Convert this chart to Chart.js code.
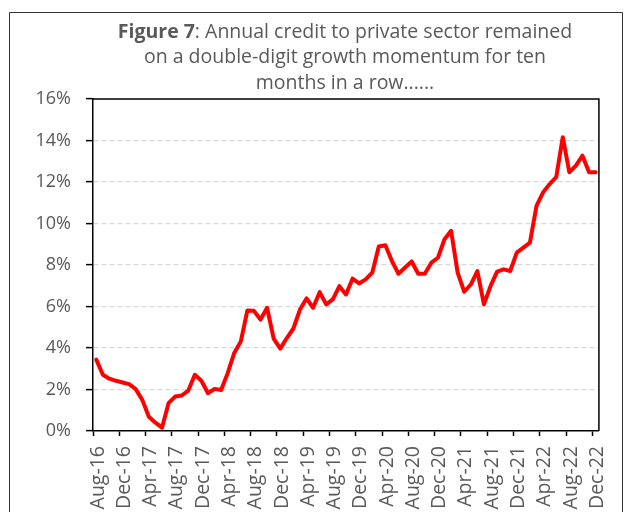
<!DOCTYPE html>
<html>
<head>
<meta charset="utf-8">
<script src="https://cdn.jsdelivr.net/npm/chart.js@4.4.0/dist/chart.umd.min.js"></script>
<style>
  html, body { margin: 0; padding: 0; background: #fff; overflow: hidden; }
  #wrap { position: relative; width: 626px; height: 512px; }
</style>
</head>
<body>
<div id="wrap"><canvas id="credit" width="626" height="512"></canvas></div>
<script>
// monthly observations, Aug-16 .. Dec-22
const months = [
  'Aug-16', 'Sep-16', 'Oct-16', 'Nov-16', 'Dec-16',
  'Jan-17', 'Feb-17', 'Mar-17', 'Apr-17', 'May-17', 'Jun-17', 'Jul-17', 'Aug-17', 'Sep-17', 'Oct-17', 'Nov-17', 'Dec-17',
  'Jan-18', 'Feb-18', 'Mar-18', 'Apr-18', 'May-18', 'Jun-18', 'Jul-18', 'Aug-18', 'Sep-18', 'Oct-18', 'Nov-18', 'Dec-18',
  'Jan-19', 'Feb-19', 'Mar-19', 'Apr-19', 'May-19', 'Jun-19', 'Jul-19', 'Aug-19', 'Sep-19', 'Oct-19', 'Nov-19', 'Dec-19',
  'Jan-20', 'Feb-20', 'Mar-20', 'Apr-20', 'May-20', 'Jun-20', 'Jul-20', 'Aug-20', 'Sep-20', 'Oct-20', 'Nov-20', 'Dec-20',
  'Jan-21', 'Feb-21', 'Mar-21', 'Apr-21', 'May-21', 'Jun-21', 'Jul-21', 'Aug-21', 'Sep-21', 'Oct-21', 'Nov-21', 'Dec-21',
  'Jan-22', 'Feb-22', 'Mar-22', 'Apr-22', 'May-22', 'Jun-22', 'Jul-22', 'Aug-22', 'Sep-22', 'Oct-22', 'Nov-22', 'Dec-22'
];

// annual growth of credit to the private sector, %
const privateCredit = [
  3.44, 2.71, 2.52, 2.42, 2.34,
  2.26, 2.02, 1.50, 0.69, 0.40, 0.16, 1.34, 1.66, 1.71, 1.95, 2.71, 2.42,
  1.82, 2.03, 1.98, 2.79, 3.76, 4.32, 5.81, 5.79, 5.37, 5.94, 4.45, 3.97,
  4.48, 4.94, 5.85, 6.39, 5.94, 6.69, 6.10, 6.34, 6.98, 6.58, 7.34, 7.11,
  7.31, 7.63, 8.89, 8.95, 8.19, 7.58, 7.88, 8.17, 7.58, 7.58, 8.11, 8.35,
  9.24, 9.65, 7.63, 6.71, 7.06, 7.71, 6.10, 6.98, 7.68, 7.79, 7.71, 8.60,
  8.84, 9.08, 10.85, 11.50, 11.90, 12.23, 14.16, 12.47, 12.79, 13.27, 12.47, 12.47
];

// every fourth month gets a tick and a label
const tickMonths = ['Aug-16', 'Dec-16', 'Apr-17', 'Aug-17', 'Dec-17', 'Apr-18', 'Aug-18', 'Dec-18', 'Apr-19', 'Aug-19',
  'Dec-19', 'Apr-20', 'Aug-20', 'Dec-20', 'Apr-21', 'Aug-21', 'Dec-21', 'Apr-22', 'Aug-22', 'Dec-22'];

const yTicks = [0, 2, 4, 6, 8, 10, 12, 14, 16];

const titleBold = 'Figure 7';
const titleLines = [
  ': Annual credit to private sector remained',
  'on a double-digit growth momentum for ten',
  'months in a row......'
];

const FONT = "'Open Sans', 'Segoe UI', sans-serif";
const GREY = '#595959';

// points sit in the middle of their month slot
const points = privateCredit.map((v, i) => ({ x: i + 0.5, y: v }));

const frameAndTitle = {
  id: 'frameAndTitle',
  afterDraw(chart) {
    const { ctx, chartArea: a } = chart;
    ctx.save();

    // top and right edges of the plot box
    ctx.strokeStyle = '#000';
    ctx.lineWidth = 1.5;
    ctx.beginPath();
    ctx.moveTo(a.left, a.top);
    ctx.lineTo(a.right, a.top);
    ctx.lineTo(a.right, a.bottom);
    ctx.stroke();

    // outer chart frame, bottom runs off the page
    ctx.strokeStyle = '#333';
    ctx.lineWidth = 1;
    ctx.beginPath();
    ctx.moveTo(9.5, 530);
    ctx.lineTo(9.5, 12.5);
    ctx.lineTo(622.5, 12.5);
    ctx.lineTo(622.5, 530);
    ctx.stroke();

    // three-line title, first words in bold
    const size = 19.5;
    const cx = 345;
    const lineY = [32, 57.5, 83];
    ctx.fillStyle = GREY;
    ctx.textBaseline = 'middle';
    ctx.textAlign = 'left';
    ctx.font = 'bold ' + size + 'px ' + FONT;
    const wb = ctx.measureText(titleBold).width;
    ctx.font = size + 'px ' + FONT;
    const w1 = ctx.measureText(titleLines[0]).width;
    const x0 = cx - (wb + w1) / 2;
    ctx.font = 'bold ' + size + 'px ' + FONT;
    ctx.fillText(titleBold, x0, lineY[0]);
    ctx.font = size + 'px ' + FONT;
    ctx.fillText(titleLines[0], x0 + wb, lineY[0]);
    ctx.textAlign = 'center';
    for (let k = 1; k < titleLines.length; k++) {
      ctx.fillText(titleLines[k], cx, lineY[k]);
    }
    ctx.restore();
  }
};

new Chart(document.getElementById('credit'), {
  type: 'line',
  data: {
    datasets: [{
      data: points,
      borderColor: '#ff0000',
      borderWidth: 4,
      borderJoinStyle: 'round',
      borderCapStyle: 'round',
      pointRadius: 0,
      tension: 0,
      fill: false
    }]
  },
  options: {
    responsive: false,
    animation: false,
    events: [],
    layout: { padding: { top: 99, right: 20, left: 0, bottom: 0 } },
    plugins: {
      legend: { display: false },
      tooltip: { enabled: false },
      title: { display: false }
    },
    scales: {
      x: {
        type: 'linear',
        min: 0,
        max: months.length,
        afterBuildTicks: scale => {
          scale.ticks = tickMonths.map(m => ({ value: months.indexOf(m) }));
        },
        afterFit: scale => { scale.height = 81; },
        border: { color: '#000', width: 1.5 },
        grid: {
          drawOnChartArea: false,
          tickLength: 5,
          tickColor: '#000',
          tickWidth: 1.5,
          tickBorderDash: []
        },
        ticks: {
          autoSkip: false,
          minRotation: 90,
          maxRotation: 90,
          padding: 10,
          labelOffset: 5,
          color: GREY,
          font: { family: FONT, size: 19.5 },
          callback: v => months[v]
        }
      },
      y: {
        min: 0,
        max: 16,
        afterBuildTicks: scale => {
          scale.ticks = yTicks.map(v => ({ value: v }));
        },
        afterFit: scale => { scale.width = 93; },
        border: { color: '#000', width: 1.5, dash: [5, 3] },
        grid: {
          color: c => (c.tick.value === 0 || c.tick.value === 16) ? 'rgba(0,0,0,0)' : '#d9d9d9',
          lineWidth: 1.25,
          tickLength: 7,
          tickColor: '#000',
          tickWidth: 1.5,
          tickBorderDash: []
        },
        ticks: {
          padding: 15,
          color: GREY,
          font: { family: FONT, size: 18 },
          callback: v => v + '%'
        }
      }
    }
  },
  plugins: [frameAndTitle]
});
</script>
</body>
</html>
